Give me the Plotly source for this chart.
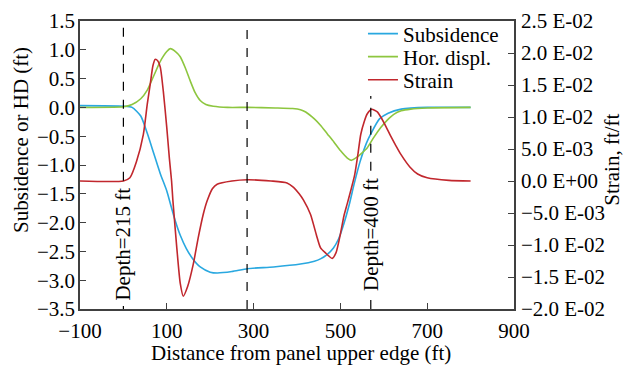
import plotly.graph_objects as go

# ---- data ----
sub_x = [-100, 0, 20, 40, 55, 70, 85, 100, 110, 120, 131, 145, 160, 177, 200, 216, 250, 286,
         346, 408, 440, 454, 470, 484, 496, 508, 520, 531, 545, 560, 570, 590, 610, 640, 700, 800]
sub_y = [0.03, 0.02, 0.0, -0.15, -0.45, -0.8, -1.15, -1.45, -1.72, -1.98, -2.22, -2.45, -2.63,
         -2.77, -2.86, -2.875, -2.85, -2.8, -2.77, -2.72, -2.67, -2.63, -2.55, -2.44, -2.28,
         -2.02, -1.7, -1.35, -0.95, -0.62, -0.46, -0.2, -0.1, -0.03, 0.0, 0.0]

hd_x = [-100, 0, 20, 40, 55, 70, 85, 100, 108, 120, 131, 143, 154, 165, 177, 190, 207, 240, 286,
        350, 390, 408, 420, 440, 454, 470, 485, 500, 516, 525, 539, 550, 562, 577, 593, 608, 623,
        640, 662, 700, 800]
hd_y = [0.0, 0.01, 0.05, 0.15, 0.3, 0.55, 0.8, 0.97, 1.02, 0.97, 0.88, 0.68, 0.46, 0.26, 0.12,
        0.05, 0.02, 0.0, 0.0, -0.01, -0.02, -0.04, -0.08, -0.2, -0.31, -0.46, -0.6, -0.75, -0.88,
        -0.92, -0.86, -0.79, -0.7, -0.52, -0.35, -0.22, -0.12, -0.06, -0.03, -0.01, 0.0]

strain_x = [-100, 0, 15, 30, 46, 55, 62, 68, 73, 79, 85, 92, 100, 106, 111, 114, 123, 131, 138,
            148, 161, 172, 184, 193, 205, 216, 250, 286, 340, 377, 392, 405, 415, 431, 445, 454,
            465, 481, 490, 500, 508, 516, 525, 533, 540, 547, 555, 562, 572, 585, 593, 605, 616,
            628, 639, 660, 678, 700, 750, 800]
strain_y = [0.0, 0.0, 0.05, 0.3, 0.73, 1.2, 1.52, 1.8, 1.9, 1.88, 1.78, 1.4, 0.83, 0.35, 0.0,
            -0.3, -1.04, -1.6, -1.8, -1.65, -1.3, -0.9, -0.52, -0.31, -0.12, -0.05, 0.0, 0.02,
            0.0, -0.03, -0.1, -0.2, -0.3, -0.52, -0.85, -1.04, -1.12, -1.21, -1.12, -0.83, -0.55,
            -0.35, -0.12, 0.1, 0.4, 0.73, 0.93, 1.05, 1.12, 1.08, 1.0, 0.85, 0.7, 0.55, 0.42, 0.22,
            0.11, 0.05, 0.01, 0.0]
strain_scale = 1e-2

x_ticks = [-100, 100, 300, 500, 700, 900]
left_ticks = [1.5, 1.0, 0.5, 0.0, -0.5, -1.0, -1.5, -2.0, -2.5, -3.0, -3.5]
right_ticks = [0.025, 0.02, 0.015, 0.01, 0.005, 0.0, -0.005, -0.01, -0.015, -0.02]
right_labels = ["2.5 E-02", "2.0 E-02", "1.5 E-02", "1.0 E-02", "5.0 E-03", "0.0 E+00",
                "\u22125.0 E-03", "\u22121.0 E-02", "\u22121.5 E-02", "\u22122.0 E-02"]

depth_lines_x = [0, 285, 570]
depth_segments = [[(0.0, 0.01), (0.445, 1.0)], [(0.0, 1.0)], [(0.0, 0.04), (0.48, 0.74)]]
depth_labels = [(0, 0.225, "Depth=215 ft"), (570, 0.26, "Depth=400 ft")]

FONT = "Liberation Serif, Times New Roman, serif"
FS = 21
AXC = "#404040"
COLORS = ["#29a8e0", "#8dc63f", "#c1272d"]
tf = dict(family=FONT, size=FS, color="black")

fig = go.Figure()
fig.add_trace(go.Scatter(x=sub_x, y=sub_y, name="Subsidence", mode="lines", legend="legend",
                         line=dict(color=COLORS[0], width=1.6, shape="spline", smoothing=0.6)))
fig.add_trace(go.Scatter(x=hd_x, y=hd_y, name="Hor. displ.", mode="lines", legend="legend2",
                         line=dict(color=COLORS[1], width=1.6, shape="spline", smoothing=0.6)))
fig.add_trace(go.Scatter(x=strain_x, y=[v * strain_scale for v in strain_y], name="Strain",
                         mode="lines", yaxis="y2", legend="legend3",
                         line=dict(color=COLORS[2], width=1.6, shape="spline", smoothing=0.6)))

for xv, segs in zip(depth_lines_x, depth_segments):
    for y0, y1 in segs:
        fig.add_shape(type="line", xref="x", yref="paper", x0=xv, x1=xv, y0=y0, y1=y1,
                      line=dict(color="black", width=1.2, dash="dash"))

for xv, yv, txt in depth_labels:
    fig.add_annotation(x=xv, y=yv, xref="x", yref="paper", text=txt, textangle=-90,
                       showarrow=False, xanchor="center", yanchor="middle", font=tf)

# axis titles
fig.add_annotation(x=-0.136, y=0.587, xref="paper", yref="paper", text="Subsidence or HD (ft)",
                   textangle=-90, showarrow=False, xanchor="center", yanchor="middle", font=tf)
fig.add_annotation(x=1.225, y=0.517, xref="paper", yref="paper", text="Strain, ft/ft",
                   textangle=-90, showarrow=False, xanchor="center", yanchor="middle", font=tf)
fig.add_annotation(x=0.509, y=-0.152, xref="paper", yref="paper",
                   text="Distance from panel upper edge (ft)", showarrow=False,
                   xanchor="center", yanchor="middle", font=tf)

leg_common = dict(xanchor="left", yanchor="middle", bgcolor="rgba(0,0,0,0)", font=tf)
fig.update_layout(
    width=625, height=367,
    margin=dict(l=80, r=111, t=21, b=58, autoexpand=False),
    paper_bgcolor="white", plot_bgcolor="white",
    font=tf,
    showlegend=True,
    legend=dict(x=0.652, y=0.955, **leg_common),
    legend2=dict(x=0.652, y=0.875, **leg_common),
    legend3=dict(x=0.652, y=0.795, **leg_common),
    xaxis=dict(range=[-100, 900], tickvals=x_ticks, ticks="inside", ticklen=6, tickcolor=AXC,
               showline=True, linecolor=AXC, linewidth=1.5, mirror=True, showgrid=False,
               zeroline=False, ticklabelstandoff=2, tickfont=tf, automargin=False),
    yaxis=dict(range=[-3.5, 1.5], tickvals=left_ticks, tickformat=".1f", ticks="inside",
               ticklen=6, tickcolor=AXC, showline=True, linecolor=AXC, linewidth=1.5,
               showgrid=False, zeroline=False, ticklabelstandoff=-1, tickfont=tf,
               automargin=False),
    yaxis2=dict(range=[-0.02, 0.025], overlaying="y", side="right", tickvals=right_ticks,
                ticktext=right_labels, ticks="inside", ticklen=6, tickcolor=AXC,
                showline=True, linecolor=AXC, linewidth=1.5, showgrid=False, zeroline=False,
                ticklabelstandoff=1, tickfont=tf, automargin=False),
)

fig.write_html("out.html")
